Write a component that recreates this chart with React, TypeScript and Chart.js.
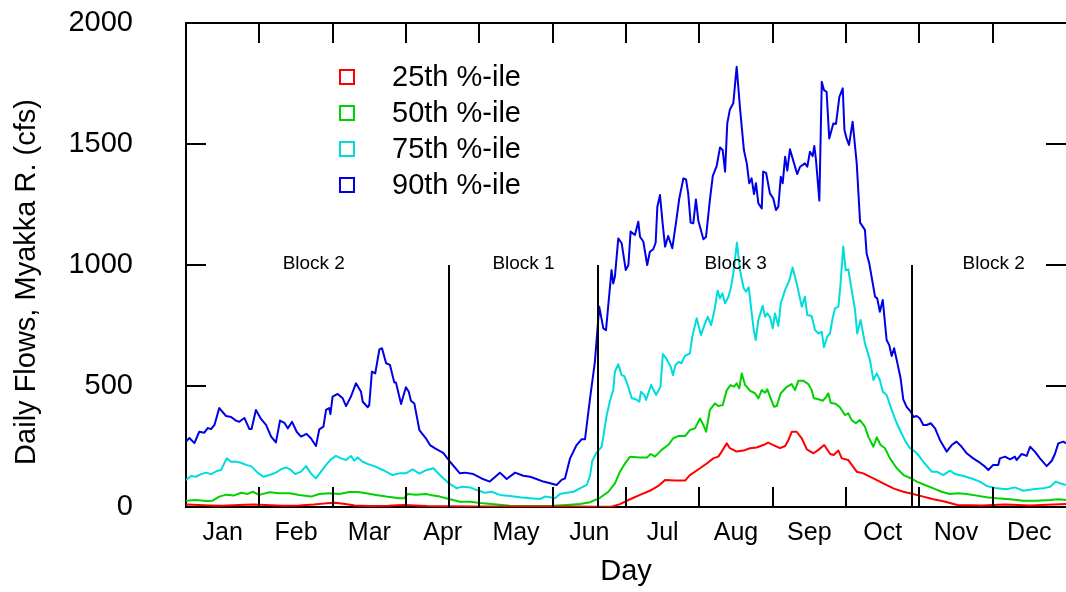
import React, { useEffect, useRef } from 'react';
import { Chart, registerables } from 'chart.js';

Chart.register(...registerables);

const FONT = '"Liberation Sans", Arial, sans-serif';
const DAYS_IN_YEAR = 365;
const MONTHS = ['Jan', 'Feb', 'Mar', 'Apr', 'May', 'Jun', 'Jul', 'Aug', 'Sep', 'Oct', 'Nov', 'Dec'];
const Y_TICKS = [0, 500, 1000, 1500, 2000];
const SERIES_LABELS = ['25th %-ile', '50th %-ile', '75th %-ile', '90th %-ile'];
const SERIES_COLORS = ['#ff0000', '#00d200', '#00dcdc', '#0000e6'];

const BLOCK_BOUNDARY_DAYS = [109, 171, 301];
const BLOCK_LABELS = ['Block 2', 'Block 1', 'Block 3', 'Block 2'];
const BLOCK_LABEL_DAYS = [53, 140, 228, 335];
const BLOCK_TOP_VALUE = 1000;

// [day, cfs]
const P25 = [[0,10],[5,8],[10,6],[15,5],[22,8],[28,10],[33,8],[40,5],[47,6],[53,10],[58,15],[62,18],[66,12],[70,6],[76,4],[84,5],[90,8],[95,6],[100,4],[110,3],[120,2],[130,2],[140,2],[150,2],[160,2],[170,1],[176.5,1],[180,12],[184.2,32],[188.3,50],[192.4,67],[195.9,87],[198.7,112],[202.8,109],[207,109],[209,132],[213.2,160],[216,180],[218.7,201],[220.8,208],[222.2,229],[224.3,263],[225.6,243],[228.4,229],[231.2,233],[233.9,243],[236.7,246],[239.4,256],[241.5,266],[243.6,256],[246.4,243],[248.5,252],[249.9,277],[251.3,311],[253.3,311],[255.4,284],[257.5,238],[260.3,222],[262.3,236],[264.7,256],[267.2,219],[268.6,215],[270.6,233],[272,201],[274.7,194],[278.2,146],[280.9,139],[285.1,118],[289.2,98],[293.4,77],[297.5,63],[300.3,57],[305.8,43],[310,32],[314.1,24],[320,8],[330,6],[340,10],[350,6],[360,10],[365,12]];

const P50 = [[0,26],[4.1,29],[8.3,25],[11,26],[13.8,43],[16.6,51],[20,48],[22.8,59],[25.6,54],[27.7,63],[30.4,50],[34.6,61],[38.7,57],[42.9,57],[47,50],[51.8,43],[55.3,54],[59.4,57],[63.6,54],[67.7,62],[71.2,62],[74.7,57],[78.8,50],[83,43],[88.5,36],[90.6,36],[91.9,54],[95.4,51],[99.5,54],[101.2,50],[105.3,43],[109.5,32],[113.6,22],[117.8,22],[123.3,15],[128.9,10],[134.4,5],[139.9,4],[145.5,4],[152.3,5],[157.9,8],[163.4,12],[167.6,20],[171.7,38],[175.2,63],[177.9,98],[180,146],[182.1,180],[184.2,208],[188.3,205],[191.3,205],[192.7,219],[194.5,208],[197.3,236],[200,256],[202.1,284],[204.2,293],[207,293],[209,318],[211.1,325],[213.2,366],[214.6,339],[215.7,311],[217.3,401],[219.4,428],[220.8,417],[222.6,421],[224.3,483],[225.9,504],[227.3,497],[228.4,511],[229.5,490],[230.5,552],[231.9,504],[234,480],[236,470],[237.4,449],[238.8,483],[240.2,472],[241.1,486],[242.5,449],[243.9,414],[245,417],[246.7,470],[248.9,494],[251.2,508],[252.6,483],[254,522],[256,522],[258.1,508],[259.5,483],[260.4,449],[262.3,445],[264.1,439],[265.4,453],[266.4,470],[267.4,431],[269.6,426],[271.2,412],[273.3,380],[274.7,387],[276.1,359],[277.8,346],[279.5,359],[281.6,332],[283,291],[285.1,249],[286.5,288],[288.1,256],[289.9,243],[292,201],[294.8,160],[297.6,132],[300.4,120],[303.1,105],[306.5,91],[310,77],[313.4,63],[316.9,54],[320.4,57],[323.8,54],[328,47],[332.1,40],[336.3,36],[341.8,32],[347.3,26],[352.8,26],[358.4,29],[361.8,32],[365,29]];

const P75 = [[0,112],[2.1,128],[4.1,125],[6.2,136],[8.3,142],[10.4,136],[13.1,150],[14.5,153],[16.9,201],[18.7,187],[20.7,187],[22.8,183],[24.9,174],[27,169],[29.7,142],[32.1,125],[34.6,132],[37.3,142],[39.4,156],[41.5,164],[43.5,153],[45.3,136],[47.7,146],[49.8,169],[51.8,139],[53.9,118],[56,146],[58.1,174],[60.1,197],[62.2,211],[64.3,201],[66.4,194],[68.4,211],[69.8,191],[71.2,205],[73.3,187],[75.3,178],[78.1,169],[81.6,153],[85.7,132],[88.5,139],[91.2,139],[94,156],[96.8,138],[99.8,153],[102.6,160],[105.3,132],[108.8,100],[112.3,77],[114.4,84],[117.8,81],[120.6,70],[124,59],[126.8,63],[130.2,50],[134.4,45],[138.5,40],[142.7,36],[146.8,33],[148.9,43],[151,40],[153,36],[155.1,54],[157.9,59],[160.7,63],[163.4,77],[166.2,91],[167.6,130],[168.5,190],[170.3,225],[172.4,249],[174.5,380],[175.9,440],[177.2,483],[177.9,560],[179.3,590],[180.7,545],[181.8,541],[183.2,504],[184.9,449],[186.6,445],[188,435],[188.7,476],[190.1,463],[190.8,442],[192.9,504],[195,463],[196.8,497],[197.8,632],[199.2,614],[201,580],[202,545],[203,587],[204.4,600],[205.5,594],[206.9,624],[209,635],[210,704],[211.8,780],[213.6,711],[215.3,759],[216.4,786],[217.8,752],[219.2,814],[220.5,894],[221.5,862],[222.5,883],[223.6,842],[225,869],[226.1,910],[227.1,972],[228.5,1092],[229.9,972],[231.3,904],[232.3,890],[233.4,908],[234.5,814],[235.5,731],[236.3,690],[237.4,773],[239.2,831],[240.2,786],[241.1,800],[242.2,786],[243.4,738],[244.3,800],[245.7,748],[246.7,842],[248.5,897],[250.3,938],[251.6,990],[253.3,924],[255.4,828],[256.7,869],[257.7,793],[259.5,789],[260.9,731],[262.3,717],[263.7,724],[264.6,660],[266,704],[267.1,717],[268.2,780],[269.2,821],[270.6,828],[271.5,924],[272.6,1076],[273.6,979],[274.7,982],[276.1,897],[277.5,814],[278.4,717],[279.8,773],[281.6,676],[283.7,607],[285.1,525],[286.5,552],[287.8,525],[289,476],[290.6,463],[292.7,401],[294.8,346],[296.5,310],[298.5,270],[300.3,243],[302.4,229],[303.7,215],[305.8,187],[309.3,146],[311.4,146],[314.1,132],[316.9,150],[319,136],[322.4,128],[325.9,118],[329.3,105],[332.1,87],[336.3,77],[340.4,73],[343.8,81],[347.3,67],[351.4,73],[355.6,77],[358.4,84],[360.8,105],[362.5,98],[365,91]];

const P90 = [[0,270],[1.4,285],[3.5,264],[5.5,311],[7.6,307],[9,326],[10.4,322],[11.8,339],[13.8,409],[16.6,376],[18.7,372],[20.7,357],[22.1,352],[24.2,368],[26.3,322],[27.2,322],[29,401],[31.1,364],[33.2,339],[35.3,291],[37.3,267],[39,357],[40.8,348],[42.2,325],[44,352],[45.9,311],[47.7,291],[50,302],[51.8,284],[53.9,252],[55.3,321],[57,332],[58.1,401],[59.4,409],[59.9,384],[60.8,456],[62.9,467],[65,449],[66.4,417],[68.4,456],[70.5,511],[72.6,476],[73.3,435],[75.4,412],[76,421],[77.1,559],[78.5,552],[80.2,651],[81.3,656],[83,594],[84.6,587],[86.4,514],[87.1,514],[89.2,426],[91.2,495],[92.4,476],[93.3,439],[94.7,428],[96.8,318],[99.5,284],[101.2,256],[103.3,242],[106.7,224],[109.5,187],[113.6,139],[115.7,142],[119.2,136],[122.6,118],[126,105],[130.2,142],[133,116],[136.5,142],[139.9,129],[142.7,125],[144.8,118],[148.2,105],[150.3,100],[153.7,91],[155.8,112],[157.2,118],[159.3,201],[162,256],[164.1,280],[165.5,280],[167.6,450],[169.6,600],[171.4,828],[173.1,738],[174.2,731],[176.5,979],[177.2,924],[177.9,952],[179.3,1110],[180.7,1090],[182.4,979],[183.5,1000],[184.4,1138],[186.2,1124],[187.6,1179],[188.3,1117],[189.7,1096],[191.3,1000],[192.4,1055],[193.8,1065],[194.8,1092],[195.5,1241],[196.6,1289],[197.7,1172],[198.7,1076],[200,1120],[201.7,1069],[203.2,1172],[204.6,1275],[206.3,1358],[207.4,1354],[208.3,1296],[209.3,1175],[210.4,1172],[211.5,1271],[212.5,1183],[214.6,1106],[215.7,1117],[217.3,1269],[218.5,1368],[220.1,1409],[221.5,1486],[222.6,1475],[223.6,1386],[224.5,1585],[225.6,1643],[227,1668],[228.4,1819],[229.8,1647],[231.4,1475],[232.6,1420],[233.6,1338],[234.6,1358],[235.6,1293],[236.4,1338],[237.4,1255],[238.8,1234],[239.4,1386],[240.6,1381],[242.2,1296],[243.6,1275],[244.7,1227],[245.7,1241],[246.7,1365],[247.5,1338],[248.5,1447],[249.4,1390],[250.5,1478],[252.2,1420],[253.5,1376],[254.7,1406],[256.7,1420],[257.7,1406],[258.8,1468],[259.9,1450],[260.6,1492],[261.3,1434],[262.7,1266],[263.7,1757],[264.6,1723],[265.7,1716],[266.8,1523],[268.5,1585],[269.6,1583],[271,1695],[272.4,1730],[273.1,1558],[274,1523],[275,1496],[276.5,1592],[278.2,1420],[279.6,1175],[281.6,1145],[282.3,1048],[283.4,1007],[285.8,869],[286.7,862],[287.8,807],[289,855],[290.6,690],[291.7,669],[292.7,624],[293.7,656],[294.8,607],[296.4,532],[297.5,445],[298.9,414],[300.6,394],[301.7,372],[303.1,376],[304.4,366],[305.8,339],[307.2,339],[308.9,346],[310.7,325],[312.7,277],[315.5,229],[317.6,256],[319.6,270],[321.7,249],[323.8,222],[326.5,201],[329.3,183],[331.4,167],[332.8,153],[334.8,174],[336.9,174],[337.6,201],[339.7,208],[341.8,197],[343.8,208],[344.5,194],[346.6,219],[348.7,211],[350.1,249],[352.1,229],[354.2,201],[357,169],[359.1,191],[360.4,219],[361.8,263],[363.9,270],[365,263]];

const SERIES = [P25, P50, P75, P90];

const overlayPlugin = {
  id: 'overlay',
  beforeDatasetsDraw(chart: any) {
    const { ctx, chartArea } = chart;
    const { left, right, top, bottom } = chartArea;
    ctx.save();
    ctx.strokeStyle = '#000';
    ctx.lineWidth = 2;
    ctx.beginPath();
    ctx.moveTo(left - 1, top);
    ctx.lineTo(right, top);
    ctx.moveTo(left, top);
    ctx.lineTo(left, bottom + 1);
    ctx.moveTo(left - 1, bottom);
    ctx.lineTo(right, bottom);
    ctx.stroke();
    ctx.restore();
  },
  afterDatasetsDraw(chart: any) {
    const { ctx, chartArea, scales } = chart;
    const { left, right, top, bottom } = chartArea;
    const xs = scales.x;
    const ys = scales.y;
    ctx.save();
    ctx.strokeStyle = '#000';
    ctx.lineWidth = 2;
    ctx.lineCap = 'butt';
    ctx.beginPath();
    for (let i = 1; i < 12; i++) {
      const px = Math.round(xs.getPixelForValue((i * DAYS_IN_YEAR) / 12));
      ctx.moveTo(px, bottom);
      ctx.lineTo(px, bottom - 20);
      ctx.moveTo(px, top);
      ctx.lineTo(px, top + 20);
    }
    for (const v of Y_TICKS) {
      const py = Math.round(ys.getPixelForValue(v));
      ctx.moveTo(left, py);
      ctx.lineTo(left + 20, py);
      ctx.moveTo(right, py);
      ctx.lineTo(right - 20, py);
    }
    const blockTopPx = Math.round(ys.getPixelForValue(BLOCK_TOP_VALUE));
    for (const d of BLOCK_BOUNDARY_DAYS) {
      const px = Math.round(xs.getPixelForValue(d));
      ctx.moveTo(px, blockTopPx);
      ctx.lineTo(px, bottom);
    }
    ctx.stroke();

    ctx.fillStyle = '#000';
    ctx.textBaseline = 'middle';
    ctx.font = `19px ${FONT}`;
    ctx.textAlign = 'center';
    BLOCK_LABELS.forEach((lab, i) => {
      ctx.fillText(lab, xs.getPixelForValue(BLOCK_LABEL_DAYS[i]), blockTopPx - 1);
    });

    ctx.font = `29px ${FONT}`;
    ctx.textAlign = 'left';
    SERIES_LABELS.forEach((lab, i) => {
      const cy = 77 + i * 36;
      ctx.strokeStyle = SERIES_COLORS[i];
      ctx.lineWidth = 2;
      ctx.strokeRect(340, cy - 7, 14, 14);
      ctx.fillStyle = '#000';
      ctx.fillText(lab, 392, cy + 1);
    });

    ctx.save();
    ctx.translate(27, 282);
    ctx.rotate(-Math.PI / 2);
    ctx.textAlign = 'center';
    ctx.font = `29px ${FONT}`;
    ctx.fillText('Daily Flows, Myakka R. (cfs)', 0, 0);
    ctx.restore();

    ctx.restore();
  },
};

export default function App() {
  const canvasRef = useRef<HTMLCanvasElement | null>(null);

  useEffect(() => {
    if (!canvasRef.current) return;
    Chart.defaults.font.family = FONT;
    Chart.defaults.color = '#000';
    const chart = new Chart(canvasRef.current, {
      type: 'line',
      data: {
        datasets: SERIES.map((s, i) => ({
          label: SERIES_LABELS[i],
          data: s.map(([d, v]) => ({ x: d, y: v })),
          borderColor: SERIES_COLORS[i],
          backgroundColor: SERIES_COLORS[i],
          borderWidth: 2,
          pointRadius: 0,
          tension: 0,
          fill: false,
          borderJoinStyle: 'round' as const,
        })),
      },
      options: {
        animation: false,
        responsive: true,
        maintainAspectRatio: false,
        layout: { padding: { top: 23, right: 0, left: 0, bottom: 0 } },
        plugins: { legend: { display: false }, tooltip: { enabled: false } },
        scales: {
          x: {
            type: 'linear',
            min: 0,
            max: DAYS_IN_YEAR,
            afterBuildTicks: (scale: any) => {
              scale.ticks = MONTHS.map((_, i) => ({ value: ((i + 0.5) * DAYS_IN_YEAR) / 12 }));
            },
            afterFit: (scale: any) => {
              scale.height = 85;
            },
            grid: { display: false },
            border: { display: false },
            ticks: {
              autoSkip: false,
              maxRotation: 0,
              padding: 3,
              font: { size: 25 },
              color: '#000',
              callback: (_v: any, idx: number) => MONTHS[idx],
            },
            title: {
              display: true,
              text: 'Day',
              font: { size: 29 },
              color: '#000',
              padding: { top: 0, bottom: 3 },
            },
          },
          y: {
            min: 0,
            max: 2000,
            afterBuildTicks: (scale: any) => {
              scale.ticks = Y_TICKS.map((v) => ({ value: v }));
            },
            afterFit: (scale: any) => {
              scale.width = 186;
            },
            grid: {
              display: true,
              drawOnChartArea: false,
              drawTicks: true,
              tickLength: 50,
              color: 'rgba(0,0,0,0)',
            },
            border: { display: false },
            ticks: {
              padding: 3,
              font: { size: 29 },
              color: '#000',
              callback: (v: any) => String(v),
            },
          },
        },
      },
      plugins: [overlayPlugin],
    });
    return () => chart.destroy();
  }, []);

  return (
    <div style={{ position: 'fixed', left: 0, top: 0, width: 1066, height: 592, background: '#fff' }}>
      <canvas ref={canvasRef} />
    </div>
  );
}
